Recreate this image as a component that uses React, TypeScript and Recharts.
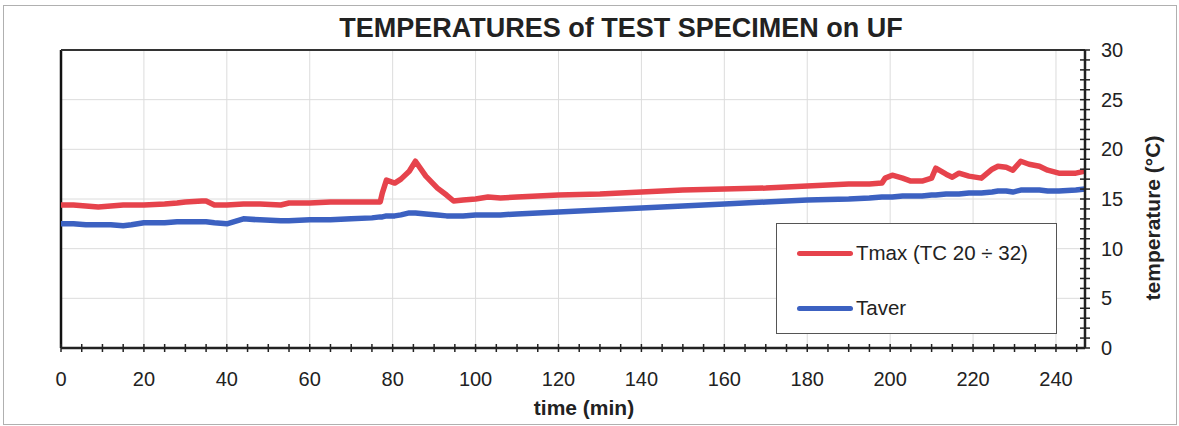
import React from 'react';
import { LineChart, Line, XAxis, YAxis, CartesianGrid, ReferenceLine, Legend } from 'recharts';

const times = [0, 3, 6, 9, 12, 15, 17, 20, 25, 28, 30, 34, 35, 37, 40, 44, 48, 53, 55, 60, 65, 70, 75, 77, 77.5, 78.5, 80.5, 82, 84, 85.5, 88, 90.8, 93, 94.7, 97, 100, 103, 106, 110, 115, 120, 130, 140, 150, 160, 170, 180, 190, 195, 198, 198.8, 200.5, 203, 205, 207.7, 210, 211, 213.5, 215, 216.6, 219, 222, 224.6, 226, 228, 229.6, 231.5, 233.5, 236, 238, 240.7, 244.8, 247];
const tmax = [14.4, 14.4, 14.3, 14.2, 14.3, 14.4, 14.4, 14.4, 14.5, 14.6, 14.7, 14.8, 14.8, 14.4, 14.4, 14.5, 14.5, 14.4, 14.6, 14.6, 14.7, 14.7, 14.7, 14.7, 15.6, 16.9, 16.6, 17.0, 17.8, 18.8, 17.3, 16.1, 15.4, 14.8, 14.9, 15.0, 15.2, 15.1, 15.2, 15.3, 15.4, 15.5, 15.7, 15.9, 16.0, 16.1, 16.3, 16.5, 16.5, 16.6, 17.1, 17.4, 17.1, 16.8, 16.8, 17.1, 18.1, 17.5, 17.2, 17.6, 17.3, 17.1, 18.0, 18.3, 18.2, 17.9, 18.8, 18.5, 18.3, 17.9, 17.6, 17.6, 17.8];
const taver = [12.5, 12.5, 12.4, 12.4, 12.4, 12.3, 12.4, 12.6, 12.6, 12.7, 12.7, 12.7, 12.7, 12.6, 12.5, 13.0, 12.9, 12.8, 12.8, 12.9, 12.9, 13.0, 13.1, 13.2, 13.2, 13.3, 13.3, 13.4, 13.6, 13.6, 13.5, 13.4, 13.3, 13.3, 13.3, 13.4, 13.4, 13.4, 13.5, 13.6, 13.7, 13.9, 14.1, 14.3, 14.5, 14.7, 14.9, 15.0, 15.1, 15.2, 15.2, 15.2, 15.3, 15.3, 15.3, 15.4, 15.4, 15.5, 15.5, 15.5, 15.6, 15.6, 15.7, 15.8, 15.8, 15.7, 15.9, 15.9, 15.9, 15.8, 15.8, 15.9, 16.0];

const xTicks = [0, 5, 10, 15, 20, 25, 30, 35, 40, 45, 50, 55, 60, 65, 70, 75, 80, 85, 90, 95, 100, 105, 110, 115, 120, 125, 130, 135, 140, 145, 150, 155, 160, 165, 170, 175, 180, 185, 190, 195, 200, 205, 210, 215, 220, 225, 230, 235, 240, 245];
const xGrid = [20, 40, 60, 80, 100, 120, 140, 160, 180, 200, 220, 240];
const yTicks = [0, 1, 2, 3, 4, 5, 6, 7, 8, 9, 10, 11, 12, 13, 14, 15, 16, 17, 18, 19, 20, 21, 22, 23, 24, 25, 26, 27, 28, 29, 30];
const yGrid = [5, 10, 15, 20, 25];

const seriesNames = ['Tmax (TC 20 ÷ 32)', 'Taver'];
const colors = ['#e6434c', '#3c61c1'];
const titleText = 'TEMPERATURES of TEST SPECIMEN on UF';

const data = times.map((t, i) => ({ t, tmax: tmax[i], taver: taver[i] }));

const FONT = '"Liberation Sans", Arial, sans-serif';

const XTick = (props: any) => {
  const { x, y, payload } = props;
  const v = payload.value;
  return (
    <g>
      <line x1={x} x2={x} y1={y - 4} y2={y + 4} stroke="#222" strokeWidth={1.5} />
      {v % 20 === 0 && (
        <text x={x} y={y + 38} textAnchor="middle" fontSize={20} fill="#222" fontFamily={FONT}>{v}</text>
      )}
    </g>
  );
};

const YTick = (props: any) => {
  const { x, y, payload } = props;
  const v = payload.value;
  return (
    <g>
      <line x1={x - 5} x2={x + 5} y1={y} y2={y} stroke="#222" strokeWidth={1.5} />
      {v % 5 === 0 && (
        <text x={x + 16} y={y + 7} textAnchor="start" fontSize={20} fill="#222" fontFamily={FONT}>{v}</text>
      )}
    </g>
  );
};

const LegendBox = () => (
  <div style={{ position: 'relative', width: '100%', height: '100%', fontFamily: FONT, fontSize: 20.5, color: '#222' }}>
    {seriesNames.map((name, i) => (
      <div key={name} style={{ position: 'absolute', left: 20, top: i === 0 ? 16 : 71, height: 26, display: 'flex', alignItems: 'center' }}>
        <div style={{ width: 56, height: 5, background: colors[i], borderRadius: 3 }} />
        <span style={{ marginLeft: 3 }}>{name}</span>
      </div>
    ))}
  </div>
);

export default function App() {
  return (
    <div style={{ position: 'absolute', left: 0, top: 0, width: 1179, height: 426, background: '#fff' }}>
      <div style={{ position: 'absolute', left: 3, top: 5, width: 1172, height: 418, border: '1px solid #b0b0b0' }} />
      <div style={{ position: 'absolute', left: 0, top: 15, width: 1242, lineHeight: '27px', textAlign: 'center', fontFamily: FONT, fontWeight: 'bold', fontSize: 27, color: '#222' }}>{titleText}</div>
      <LineChart width={1179} height={426} data={data} margin={{ top: 50, right: 34, bottom: 18, left: 61 }}>
        <CartesianGrid stroke="#dcdcdc" strokeWidth={1} verticalValues={xGrid} horizontalValues={yGrid} />
        <XAxis
          dataKey="t"
          type="number"
          domain={[0, 247]}
          ticks={xTicks}
          interval={0}
          height={60}
          tickSize={0}
          tickMargin={0}
          tickLine={false}
          axisLine={{ stroke: '#222', strokeWidth: 2.5 }}
          tick={<XTick />}
          label={(p: any) => (
            <text x={584} y={415} textAnchor="middle" fontSize={21} fontWeight="bold" fill="#222" fontFamily={FONT}>time (min)</text>
          )}
        />
        <YAxis
          orientation="right"
          type="number"
          domain={[0, 30]}
          ticks={yTicks}
          interval={0}
          width={60}
          tickSize={0}
          tickMargin={0}
          tickLine={false}
          axisLine={{ stroke: '#222', strokeWidth: 2.5 }}
          tick={<YTick />}
          label={(p: any) => (
            <text x={1160} y={218} transform="rotate(-90 1160 218)" textAnchor="middle" fontSize={21} fontWeight="bold" fill="#222" fontFamily={FONT}>temperature (°C)</text>
          )}
        />
        <ReferenceLine x={0} stroke="#111" strokeWidth={2.5} />
        <ReferenceLine y={30} stroke="#333" strokeWidth={2} />
        <Line type="linear" dataKey="tmax" name={seriesNames[0]} stroke={colors[0]} strokeWidth={5.5} dot={false} isAnimationActive={false} strokeLinejoin="round" />
        <Line type="linear" dataKey="taver" name={seriesNames[1]} stroke={colors[1]} strokeWidth={5.5} dot={false} isAnimationActive={false} strokeLinejoin="round" />
        <Legend
          layout="horizontal"
          verticalAlign="middle"
          align="center"
          wrapperStyle={{ position: 'absolute', left: 776, top: 223, width: 281, height: 111, border: '1.5px solid #555', background: '#fff', boxSizing: 'border-box' }}
          content={() => <LegendBox />}
        />
      </LineChart>
    </div>
  );
}
